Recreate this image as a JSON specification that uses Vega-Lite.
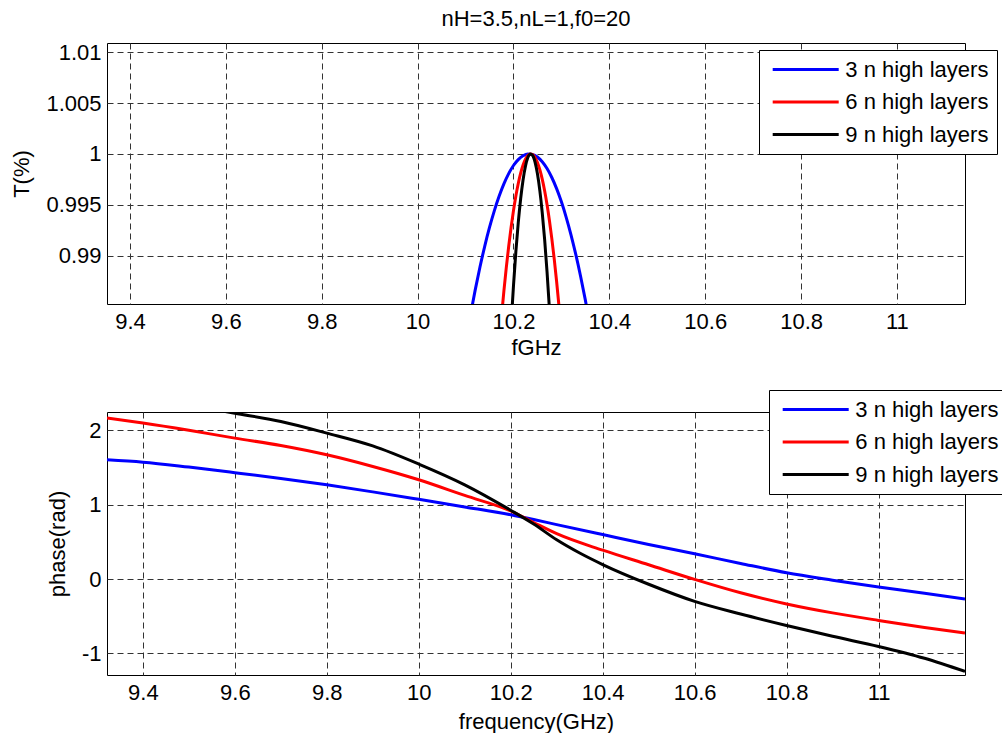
{
  "$schema": "https://vega.github.io/schema/vega-lite/v6.json",
  "padding": {"left": 10, "top": 7, "right": 0, "bottom": 0},
  "bounds": "flush",
  "spacing": 108,
  "background": "white",
  "config": {
    "font": "Liberation Sans",
    "view": {"stroke": "black", "strokeWidth": 1},
    "title": {"font": "Liberation Sans", "fontSize": 22, "fontWeight": "normal", "color": "black"},
    "axis": {
      "labelFont": "Liberation Sans", "labelFontSize": 22, "labelColor": "black",
      "titleFont": "Liberation Sans", "titleFontSize": 22, "titleFontWeight": "normal", "titleColor": "black",
      "ticks": false, "domain": false,
      "grid": true, "gridColor": "#333333", "gridOpacity": 1, "gridWidth": 1, "gridDash": [6, 4]
    },
    "axisX": {"labelPadding": 7, "titlePadding": 5},
    "axisY": {"labelPadding": 6, "titlePadding": 12},
    "legend": {
      "orient": "none", "title": null, "symbolType": "M-0.58,0H6.02", "symbolSize": 400,
      "symbolStrokeWidth": 3, "labelFont": "Liberation Sans", "labelFontSize": 22, "labelColor": "black",
      "labelOffset": 55.3, "rowPadding": 9.5, "padding": 8, "strokeColor": "black", "fillColor": "white",
      "labelLimit": 0
    }
  },
  "resolve": {"scale": {"color": "independent"}, "legend": {"color": "independent"}},
  "datasets": {
    "trans": [
      {"f": 10.11, "T": 0.98411, "series": "3 n high layers"},
      {"f": 10.12, "T": 0.98659, "series": "3 n high layers"},
      {"f": 10.13, "T": 0.98886, "series": "3 n high layers"},
      {"f": 10.14, "T": 0.99092, "series": "3 n high layers"},
      {"f": 10.15, "T": 0.99277, "series": "3 n high layers"},
      {"f": 10.16, "T": 0.9944, "series": "3 n high layers"},
      {"f": 10.17, "T": 0.99583, "series": "3 n high layers"},
      {"f": 10.18, "T": 0.99705, "series": "3 n high layers"},
      {"f": 10.19, "T": 0.99806, "series": "3 n high layers"},
      {"f": 10.2, "T": 0.99886, "series": "3 n high layers"},
      {"f": 10.21, "T": 0.99944, "series": "3 n high layers"},
      {"f": 10.22, "T": 0.99982, "series": "3 n high layers"},
      {"f": 10.23, "T": 0.99999, "series": "3 n high layers"},
      {"f": 10.24, "T": 0.99995, "series": "3 n high layers"},
      {"f": 10.25, "T": 0.9997, "series": "3 n high layers"},
      {"f": 10.26, "T": 0.99923, "series": "3 n high layers"},
      {"f": 10.27, "T": 0.99856, "series": "3 n high layers"},
      {"f": 10.28, "T": 0.99768, "series": "3 n high layers"},
      {"f": 10.29, "T": 0.99659, "series": "3 n high layers"},
      {"f": 10.3, "T": 0.99529, "series": "3 n high layers"},
      {"f": 10.31, "T": 0.99377, "series": "3 n high layers"},
      {"f": 10.32, "T": 0.99205, "series": "3 n high layers"},
      {"f": 10.33, "T": 0.99012, "series": "3 n high layers"},
      {"f": 10.34, "T": 0.98798, "series": "3 n high layers"},
      {"f": 10.35, "T": 0.98563, "series": "3 n high layers"},
      {"f": 10.36, "T": 0.98306, "series": "3 n high layers"},
      {"f": 10.17, "T": 0.98127, "series": "6 n high layers"},
      {"f": 10.175, "T": 0.984, "series": "6 n high layers"},
      {"f": 10.18, "T": 0.98651, "series": "6 n high layers"},
      {"f": 10.185, "T": 0.98882, "series": "6 n high layers"},
      {"f": 10.19, "T": 0.9909, "series": "6 n high layers"},
      {"f": 10.195, "T": 0.99277, "series": "6 n high layers"},
      {"f": 10.2, "T": 0.99443, "series": "6 n high layers"},
      {"f": 10.205, "T": 0.99587, "series": "6 n high layers"},
      {"f": 10.21, "T": 0.99709, "series": "6 n high layers"},
      {"f": 10.215, "T": 0.9981, "series": "6 n high layers"},
      {"f": 10.22, "T": 0.9989, "series": "6 n high layers"},
      {"f": 10.225, "T": 0.99948, "series": "6 n high layers"},
      {"f": 10.23, "T": 0.99985, "series": "6 n high layers"},
      {"f": 10.235, "T": 1.0, "series": "6 n high layers"},
      {"f": 10.24, "T": 0.99993, "series": "6 n high layers"},
      {"f": 10.245, "T": 0.99965, "series": "6 n high layers"},
      {"f": 10.25, "T": 0.99916, "series": "6 n high layers"},
      {"f": 10.255, "T": 0.99845, "series": "6 n high layers"},
      {"f": 10.26, "T": 0.99752, "series": "6 n high layers"},
      {"f": 10.265, "T": 0.99638, "series": "6 n high layers"},
      {"f": 10.27, "T": 0.99503, "series": "6 n high layers"},
      {"f": 10.275, "T": 0.99346, "series": "6 n high layers"},
      {"f": 10.28, "T": 0.99168, "series": "6 n high layers"},
      {"f": 10.285, "T": 0.98968, "series": "6 n high layers"},
      {"f": 10.29, "T": 0.98746, "series": "6 n high layers"},
      {"f": 10.295, "T": 0.98503, "series": "6 n high layers"},
      {"f": 10.3, "T": 0.98239, "series": "6 n high layers"},
      {"f": 10.195, "T": 0.98319, "series": "9 n high layers"},
      {"f": 10.2, "T": 0.98704, "series": "9 n high layers"},
      {"f": 10.205, "T": 0.99039, "series": "9 n high layers"},
      {"f": 10.21, "T": 0.99324, "series": "9 n high layers"},
      {"f": 10.215, "T": 0.99559, "series": "9 n high layers"},
      {"f": 10.22, "T": 0.99744, "series": "9 n high layers"},
      {"f": 10.225, "T": 0.99879, "series": "9 n high layers"},
      {"f": 10.23, "T": 0.99964, "series": "9 n high layers"},
      {"f": 10.235, "T": 0.99999, "series": "9 n high layers"},
      {"f": 10.24, "T": 0.99984, "series": "9 n high layers"},
      {"f": 10.245, "T": 0.99919, "series": "9 n high layers"},
      {"f": 10.25, "T": 0.99804, "series": "9 n high layers"},
      {"f": 10.255, "T": 0.99639, "series": "9 n high layers"},
      {"f": 10.26, "T": 0.99424, "series": "9 n high layers"},
      {"f": 10.265, "T": 0.99159, "series": "9 n high layers"},
      {"f": 10.27, "T": 0.98844, "series": "9 n high layers"},
      {"f": 10.275, "T": 0.98479, "series": "9 n high layers"},
      {"f": 10.28, "T": 0.98064, "series": "9 n high layers"}
    ],
    "phase": [
      {"f": 9.322, "p": 1.603, "series": "3 n high layers"},
      {"f": 9.4, "p": 1.572, "series": "3 n high layers"},
      {"f": 9.5, "p": 1.505, "series": "3 n high layers"},
      {"f": 9.6, "p": 1.43, "series": "3 n high layers"},
      {"f": 9.7, "p": 1.352, "series": "3 n high layers"},
      {"f": 9.8, "p": 1.267, "series": "3 n high layers"},
      {"f": 9.9, "p": 1.172, "series": "3 n high layers"},
      {"f": 10.0, "p": 1.072, "series": "3 n high layers"},
      {"f": 10.1, "p": 0.97, "series": "3 n high layers"},
      {"f": 10.2, "p": 0.864, "series": "3 n high layers"},
      {"f": 10.25, "p": 0.8, "series": "3 n high layers"},
      {"f": 10.3, "p": 0.732, "series": "3 n high layers"},
      {"f": 10.4, "p": 0.598, "series": "3 n high layers"},
      {"f": 10.5, "p": 0.465, "series": "3 n high layers"},
      {"f": 10.6, "p": 0.34, "series": "3 n high layers"},
      {"f": 10.7, "p": 0.21, "series": "3 n high layers"},
      {"f": 10.8, "p": 0.085, "series": "3 n high layers"},
      {"f": 10.9, "p": -0.015, "series": "3 n high layers"},
      {"f": 11.0, "p": -0.108, "series": "3 n high layers"},
      {"f": 11.1, "p": -0.19, "series": "3 n high layers"},
      {"f": 11.188, "p": -0.269, "series": "3 n high layers"},
      {"f": 9.322, "p": 2.164, "series": "6 n high layers"},
      {"f": 9.4, "p": 2.097, "series": "6 n high layers"},
      {"f": 9.5, "p": 2.0, "series": "6 n high layers"},
      {"f": 9.6, "p": 1.895, "series": "6 n high layers"},
      {"f": 9.7, "p": 1.796, "series": "6 n high layers"},
      {"f": 9.8, "p": 1.671, "series": "6 n high layers"},
      {"f": 9.9, "p": 1.514, "series": "6 n high layers"},
      {"f": 10.0, "p": 1.335, "series": "6 n high layers"},
      {"f": 10.1, "p": 1.124, "series": "6 n high layers"},
      {"f": 10.2, "p": 0.915, "series": "6 n high layers"},
      {"f": 10.25, "p": 0.76, "series": "6 n high layers"},
      {"f": 10.3, "p": 0.61, "series": "6 n high layers"},
      {"f": 10.4, "p": 0.388, "series": "6 n high layers"},
      {"f": 10.5, "p": 0.192, "series": "6 n high layers"},
      {"f": 10.6, "p": -0.005, "series": "6 n high layers"},
      {"f": 10.7, "p": -0.185, "series": "6 n high layers"},
      {"f": 10.8, "p": -0.335, "series": "6 n high layers"},
      {"f": 10.9, "p": -0.455, "series": "6 n high layers"},
      {"f": 11.0, "p": -0.556, "series": "6 n high layers"},
      {"f": 11.1, "p": -0.65, "series": "6 n high layers"},
      {"f": 11.188, "p": -0.726, "series": "6 n high layers"},
      {"f": 9.5, "p": 2.34, "series": "9 n high layers"},
      {"f": 9.6, "p": 2.23, "series": "9 n high layers"},
      {"f": 9.7, "p": 2.118, "series": "9 n high layers"},
      {"f": 9.8, "p": 1.962, "series": "9 n high layers"},
      {"f": 9.9, "p": 1.79, "series": "9 n high layers"},
      {"f": 10.0, "p": 1.546, "series": "9 n high layers"},
      {"f": 10.1, "p": 1.267, "series": "9 n high layers"},
      {"f": 10.2, "p": 0.925, "series": "9 n high layers"},
      {"f": 10.25, "p": 0.74, "series": "9 n high layers"},
      {"f": 10.3, "p": 0.528, "series": "9 n high layers"},
      {"f": 10.35, "p": 0.35, "series": "9 n high layers"},
      {"f": 10.4, "p": 0.195, "series": "9 n high layers"},
      {"f": 10.5, "p": -0.07, "series": "9 n high layers"},
      {"f": 10.6, "p": -0.3, "series": "9 n high layers"},
      {"f": 10.7, "p": -0.47, "series": "9 n high layers"},
      {"f": 10.8, "p": -0.624, "series": "9 n high layers"},
      {"f": 10.9, "p": -0.77, "series": "9 n high layers"},
      {"f": 11.0, "p": -0.906, "series": "9 n high layers"},
      {"f": 11.1, "p": -1.065, "series": "9 n high layers"},
      {"f": 11.188, "p": -1.242, "series": "9 n high layers"}
    ]
  },
  "vconcat": [
    {
      "width": 858,
      "height": 261,
      "title": {"text": "nH=3.5,nL=1,f0=20", "anchor": "middle", "frame": "group", "baseline": "alphabetic", "offset": -7},
      "data": {"name": "trans"},
      "mark": {"type": "line", "clip": true, "strokeWidth": 3, "interpolate": "monotone"},
      "encoding": {
        "x": {"field": "f", "type": "quantitative",
          "scale": {"domain": [9.352, 11.142], "nice": false, "zero": false},
          "axis": {"title": "fGHz", "values": [9.4, 9.6, 9.8, 10, 10.2, 10.4, 10.6, 10.8, 11], "labelExpr": "'' + datum.value"}},
        "y": {"field": "T", "type": "quantitative",
          "scale": {"domain": [0.98525, 1.0109], "nice": false, "zero": false},
          "axis": {"title": "T(%)", "values": [0.99, 0.995, 1, 1.005, 1.01], "labelExpr": "'' + datum.value"}},
        "color": {"field": "series", "type": "nominal",
          "scale": {"domain": ["3 n high layers", "6 n high layers", "9 n high layers"], "range": ["#0000ff", "#ff0000", "#000000"]},
          "legend": {"legendX": 652, "legendY": 7}}
      }
    },
    {
      "width": 858,
      "height": 263,
      "data": {"name": "phase"},
      "mark": {"type": "line", "clip": true, "strokeWidth": 3, "interpolate": "monotone"},
      "encoding": {
        "x": {"field": "f", "type": "quantitative",
          "scale": {"domain": [9.322, 11.188], "nice": false, "zero": false},
          "axis": {"title": "frequency(GHz)", "titlePadding": 8, "values": [9.4, 9.6, 9.8, 10, 10.2, 10.4, 10.6, 10.8, 11], "labelExpr": "'' + datum.value"}},
        "y": {"field": "p", "type": "quantitative",
          "scale": {"domain": [-1.29, 2.246], "nice": false, "zero": false},
          "axis": {"title": "phase(rad)", "values": [-1, 0, 1, 2], "labelExpr": "'' + datum.value"}},
        "color": {"field": "series", "type": "nominal",
          "scale": {"domain": ["3 n high layers", "6 n high layers", "9 n high layers"], "range": ["#0000ff", "#ff0000", "#000000"]},
          "legend": {"legendX": 662, "legendY": -22}}
      }
    }
  ]
}
